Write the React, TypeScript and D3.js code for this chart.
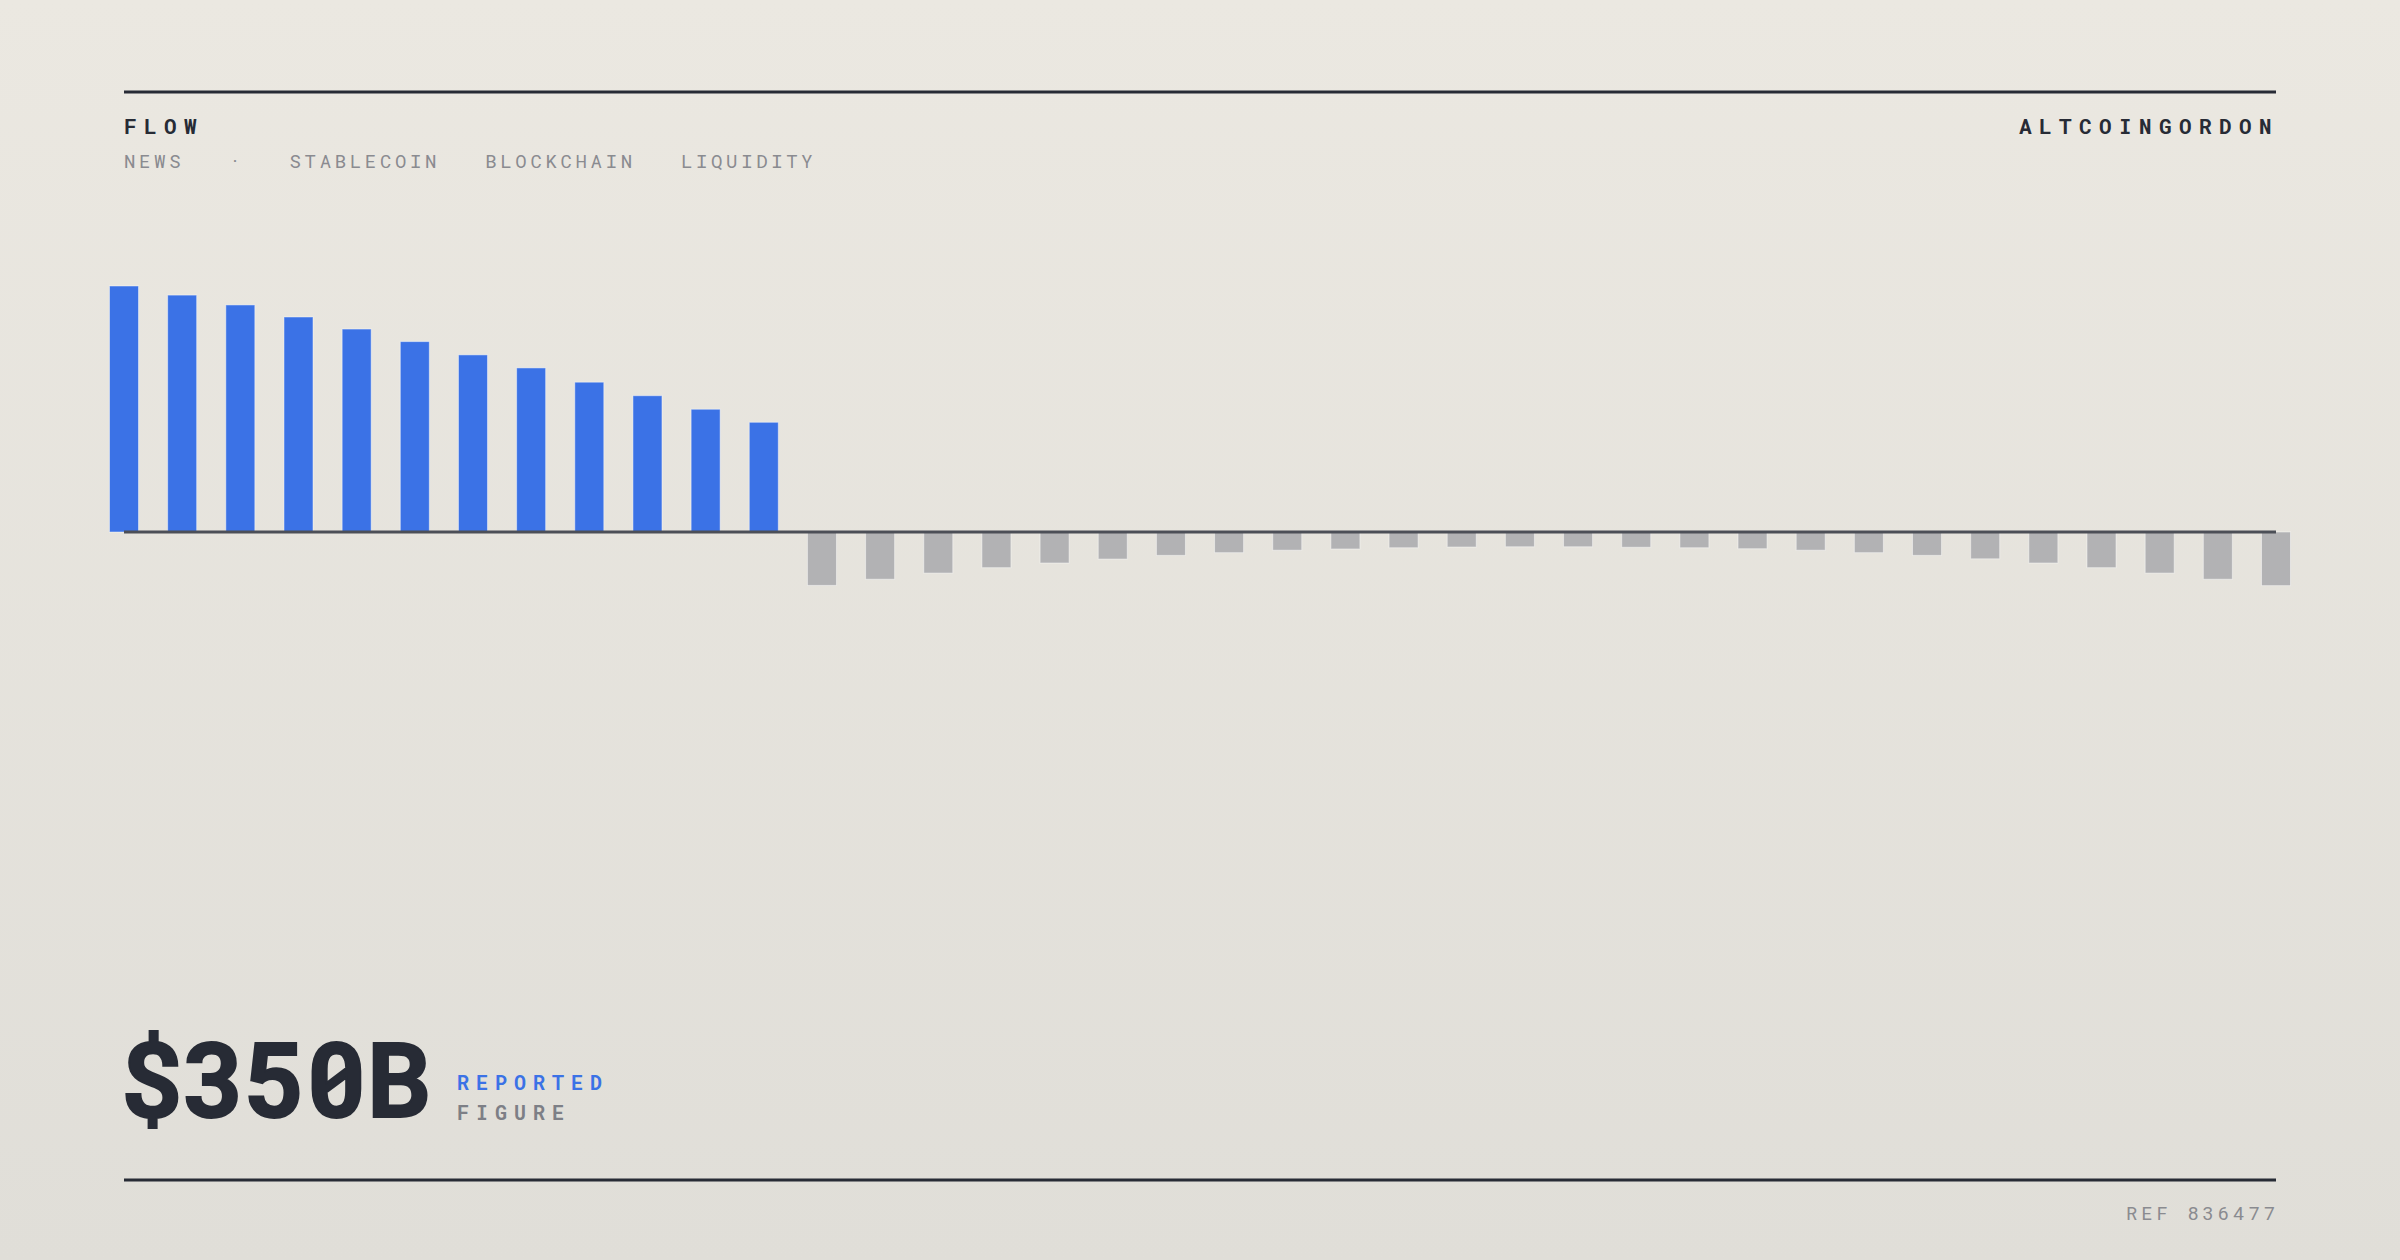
import { useMemo } from 'react';
import * as d3 from 'd3';

// values (arbitrary units, first bar = 100)
const inflow = [100, 96.3, 92.3, 87.4, 82.5, 77.4, 72, 66.7, 60.9, 55.4, 49.9, 44.6];
const outflow = [
  -21.7, -19.2, -16.7, -14.5, -12.6, -11, -9.5, -8.4, -7.4, -6.9, -6.4, -6.1, -6,
  -6, -6.2, -6.4, -6.8, -7.4, -8.4, -9.5, -10.9, -12.6, -14.5, -16.7, -19.2, -21.8,
];
const tags = ['NEWS', '·', 'STABLECOIN', 'BLOCKCHAIN', 'LIQUIDITY'];
const headline = '$350B';
const headlineLabel = ['REPORTED', 'FIGURE'];

const W = 2400;
const H = 1260;
const left = 124;
const right = 2276;
const mono = '"Roboto Mono", "DejaVu Sans Mono", monospace';

const ink = '#272b35';
const blue = '#3b72e6';
const grey = '#b2b2b4';
const muted = '#8a8b90';

export default function App() {
  const values = useMemo(() => [...inflow, ...outflow], []);

  const x = d3
    .scalePoint<number>()
    .domain(values.map((_, i) => i))
    .range([left, right]);
  const y = d3.scaleLinear().domain([0, 100]).range([532, 286]);
  const barW = 29;

  return (
    <>
      <style>{`body{margin:0}`}</style>
      <svg width={W} height={H} style={{ display: 'block' }}>
        <defs>
          <linearGradient id="bg" x1="0" y1="0" x2="0" y2="1">
            <stop offset="0" stopColor="#ebe8e1" />
            <stop offset="1" stopColor="#e0ded8" />
          </linearGradient>
        </defs>
        <rect width={W} height={H} fill="url(#bg)" />

        {/* header */}
        <line x1={left} x2={right} y1={92} y2={92} stroke={ink} strokeWidth={3} />
        <text
          x={left}
          y={134}
          fontFamily={mono}
          fontWeight={700}
          fontSize={21}
          letterSpacing={7.4}
          fill={ink}
        >
          FLOW
        </text>
        <text
          x={right + 3}
          y={134}
          textAnchor="end"
          fontFamily={mono}
          fontWeight={700}
          fontSize={21}
          letterSpacing={7.4}
          fill={ink}
        >
          ALTCOINGORDON
        </text>
        <text
          x={left}
          y={168}
          fontFamily={mono}
          fontSize={19}
          letterSpacing={3.65}
          fill={muted}
          style={{ whiteSpace: 'pre' }}
        >
          {tags.join('   ')}
        </text>

        {/* bars */}
        <g>
          {values.map((v, i) => (
            <rect
              key={i}
              x={(x(i) ?? 0) - barW / 2}
              y={Math.min(y(v), y(0))}
              width={barW}
              height={Math.abs(y(v) - y(0))}
              fill={v >= 0 ? blue : grey}
              stroke="rgba(255,255,255,0.45)"
              strokeWidth={1}
            />
          ))}
        </g>
        <line x1={left} x2={right} y1={y(0)} y2={y(0)} stroke="#4c4f57" strokeWidth={3} />

        {/* headline */}
        <text
          x={left - 4}
          y={1117}
          fontFamily={mono}
          fontWeight={700}
          fontSize={103}
          fill={ink}
          stroke={ink}
          strokeWidth={2}
        >
          {headline}
        </text>
        <text
          x={457}
          y={1090}
          fontFamily={mono}
          fontWeight={700}
          fontSize={20}
          letterSpacing={7}
          fill={blue}
        >
          {headlineLabel[0]}
        </text>
        <text
          x={457}
          y={1120}
          fontFamily={mono}
          fontWeight={700}
          fontSize={20}
          letterSpacing={7}
          fill="#7d7f86"
        >
          {headlineLabel[1]}
        </text>

        {/* footer */}
        <line x1={left} x2={right} y1={1180} y2={1180} stroke={ink} strokeWidth={3} />
        <text
          x={right + 3}
          y={1220}
          textAnchor="end"
          fontFamily={mono}
          fontSize={19}
          letterSpacing={3.9}
          fill={muted}
        >
          REF 836477
        </text>
      </svg>
    </>
  );
}
